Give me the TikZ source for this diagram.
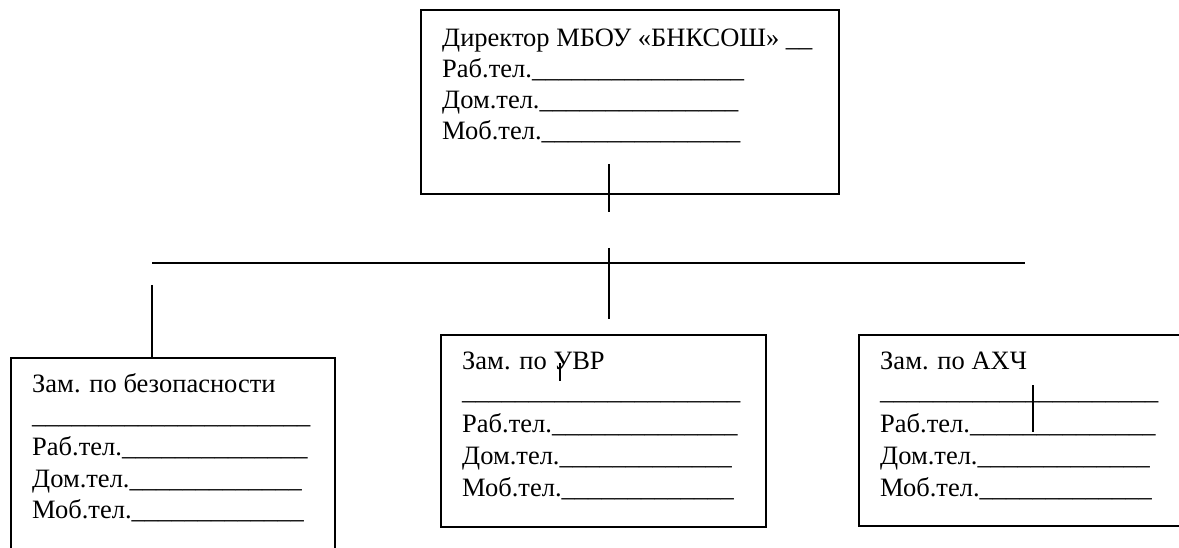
\documentclass[tikz,border=0pt]{standalone}
\usepackage{fontspec}
\setmainfont{Liberation Serif}
\usetikzlibrary{positioning}

\tikzset{
  box/.style={draw, line width=1.6pt, inner sep=0pt, anchor=north west},
  txt/.style={anchor=base west, inner sep=0pt, font=\fontsize{26.5}{31}\selectfont},
  link/.style={line width=1.6pt}
}

\begin{document}
\begin{tikzpicture}[x=1pt, y=-1pt]
        \clip (0, 0) rectangle (1179, 548);
        % boxes
        \node[box, minimum width=418pt, minimum height=184pt] (dir) at (420, 9) {};
        \node[box, minimum width=324pt, minimum height=220pt] (bez) at (10, 357) {};
        \node[box, minimum width=325pt, minimum height=192pt] (uvr) at (440, 334) {};
        \node[box, minimum width=340pt, minimum height=191pt] (ahch) at (858, 334) {};
        % director
        \node[txt] (dir1) at (442, 47) {Директор МБОУ «БНКСОШ» \_\_};
        \node[txt] (dir2) at (442, 78) {Раб.тел.\_\_\_\_\_\_\_\_\_\_\_\_\_\_\_\_};
        \node[txt] (dir3) at (442, 109) {Дом.тел.\_\_\_\_\_\_\_\_\_\_\_\_\_\_\_};
        \node[txt] (dir4) at (442, 140) {Моб.тел.\_\_\_\_\_\_\_\_\_\_\_\_\_\_\_};
        % security
        \node[txt] (bez1) at (32, 392) {Зам. по безопасности};
        \node[txt] (bez2) at (32, 423) {\_\_\_\_\_\_\_\_\_\_\_\_\_\_\_\_\_\_\_\_\_};
        \node[txt] (bez3) at (32, 455) {Раб.тел.\_\_\_\_\_\_\_\_\_\_\_\_\_\_};
        \node[txt] (bez4) at (32, 487) {Дом.тел.\_\_\_\_\_\_\_\_\_\_\_\_\_};
        \node[txt] (bez5) at (32, 518) {Моб.тел.\_\_\_\_\_\_\_\_\_\_\_\_\_};
        % uvr
        \node[txt] (uvr1) at (462, 370) {Зам. по УВР};
        \node[txt] (uvr2) at (462, 399) {\_\_\_\_\_\_\_\_\_\_\_\_\_\_\_\_\_\_\_\_\_};
        \node[txt] (uvr3) at (462, 432) {Раб.тел.\_\_\_\_\_\_\_\_\_\_\_\_\_\_};
        \node[txt] (uvr4) at (462, 464) {Дом.тел.\_\_\_\_\_\_\_\_\_\_\_\_\_};
        \node[txt] (uvr5) at (462, 496) {Моб.тел.\_\_\_\_\_\_\_\_\_\_\_\_\_};
        % ahch
        \node[txt] (ahch1) at (880, 370) {Зам. по АХЧ};
        \node[txt] (ahch2) at (880, 399) {\_\_\_\_\_\_\_\_\_\_\_\_\_\_\_\_\_\_\_\_\_};
        \node[txt] (ahch3) at (880, 432) {Раб.тел.\_\_\_\_\_\_\_\_\_\_\_\_\_\_};
        \node[txt] (ahch4) at (880, 464) {Дом.тел.\_\_\_\_\_\_\_\_\_\_\_\_\_};
        \node[txt] (ahch5) at (880, 496) {Моб.тел.\_\_\_\_\_\_\_\_\_\_\_\_\_};
        % connectors
        \coordinate (dirtop) at (609, 164);
        \coordinate (dirbot) at (609, 212);
        \coordinate (busl) at (152, 263);
        \coordinate (busr) at (1025, 263);
        \coordinate (midtop) at (609, 248);
        \coordinate (midbot) at (609, 319);
        \coordinate (lefttop) at (152, 285);
        \coordinate (uvrtop) at (560, 363);
        \coordinate (uvrbot) at (560, 381);
        \coordinate (ahchtop) at (1033, 385);
        \coordinate (ahchbot) at (1033, 432);
        \draw[link] (dirtop) -- (dirbot);
        \draw[link] (busl) -- (busr);
        \draw[link] (midtop) -- (midbot);
        \draw[link] (lefttop) -- (bez.north west -| lefttop);
        \draw[link] (uvrtop) -- (uvrbot);
        \draw[link] (ahchtop) -- (ahchbot);
    \end{tikzpicture}
\end{document}
